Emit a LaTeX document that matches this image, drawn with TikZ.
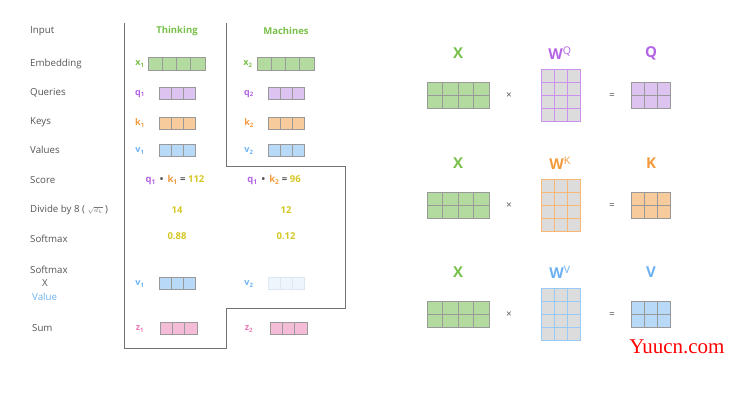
\documentclass[tikz,border=0pt]{standalone}
\usepackage{fontspec}
\setmainfont{Open Sans}
\newfontfamily\wmfont{Liberation Serif}
\definecolor{txtgray}{HTML}{555555}
\definecolor{lgreen}{HTML}{B3DBA0}
\definecolor{tgreen}{HTML}{78C04A}
\definecolor{lpurple}{HTML}{DDC4F0}
\definecolor{tpurple}{HTML}{B464E6}
\definecolor{lorange}{HTML}{F8CB9C}
\definecolor{torange}{HTML}{F39A3C}
\definecolor{lblue}{HTML}{B8D9F8}
\definecolor{tblue}{HTML}{6CB2F3}
\definecolor{lpink}{HTML}{F5BCD8}
\definecolor{tpink}{HTML}{EC7AB6}
\definecolor{tyellow}{HTML}{D4C724}
\definecolor{wgray}{HTML}{DCDCDC}
\definecolor{cellgray}{HTML}{999999}
\definecolor{fadeblue}{HTML}{EEF5FD}
\definecolor{fadeline}{HTML}{DCE7F2}
\newcommand\cells[8]{%
  \foreach \ci in {1,...,#3}{\foreach \cj in {1,...,#4}{%
    \draw[fill=#7,draw=#8,line width=0.8pt] ({#1+(\ci-1)*#5},{#2+(\cj-1)*#6}) rectangle ++(#5,#6);}}}
\begin{document}
\begin{tikzpicture}[x=1pt,y=-1pt,
  lbl/.style={anchor=west,text=txtgray,font=\fontsize{9.7}{11}\selectfont,inner sep=0pt},
  head/.style={text=tgreen,font=\bfseries\fontsize{9.5}{11}\selectfont,inner sep=0pt},
  vlbl/.style={font=\bfseries\fontsize{9}{11}\selectfont,inner sep=0pt},
  num/.style={text=tyellow,font=\bfseries\fontsize{9.5}{11}\selectfont,inner sep=0pt},
  big/.style={font=\bfseries\fontsize{15}{17}\selectfont,inner sep=0pt},
  op/.style={text=txtgray,font=\fontsize{10}{12}\selectfont,inner sep=0pt}]
\useasboundingbox (0,0) rectangle (738,401);
% row labels
\node[lbl] (lInput) at (30,31) {Input};
\node[lbl] (lEmb) at (30,64) {Embedding};
\node[lbl] (lQ) at (30,93) {Queries};
\node[lbl] (lK) at (30,122) {Keys};
\node[lbl] (lV) at (30,150) {Values};
\node[lbl] (lScore) at (30,180) {Score};
\node[lbl] (lDiv) at (30,210) {Divide by 8 ( {\color{txtgray!80}\scriptsize$\sqrt{d_k}$} )};
\node[lbl] (lSoft) at (30,239) {Softmax};
\node[lbl] (lSoft2) at (30,270) {Softmax};
\node[lbl] (lX) at (42,283) {X};
\node[lbl,text=tblue] (lValue) at (32,297) {Value};
\node[lbl] (lSum) at (32,328) {Sum};
% outline
\draw[gray!90!black,line width=0.9pt] (124,23) -- (124,348) -- (226,348) -- (226,308) -- (345,308) -- (345,166) -- (226,166) -- (226,23);
% headings
\node[head] (hThink) at (177,31) {Thinking};
\node[head] (hMach) at (286,31) {Machines};
% column 1
\node[vlbl,text=tgreen] (x1) at (140,64) {x\textsubscript{1}};
\cells{148}{57}{4}{1}{14.25}{13}{lgreen}{cellgray}
\node[vlbl,text=tpurple] (q1) at (140,94) {q\textsubscript{1}};
\cells{159}{87}{3}{1}{12}{12}{lpurple}{cellgray}
\node[vlbl,text=torange] (k1) at (140,123) {k\textsubscript{1}};
\cells{159}{117}{3}{1}{12}{12}{lorange}{cellgray}
\node[vlbl,text=tblue] (v1) at (140,151) {v\textsubscript{1}};
\cells{159}{144}{3}{1}{12}{12}{lblue}{cellgray}
\node[vlbl,text=tblue] (v1b) at (140,284) {v\textsubscript{1}};
\cells{159}{277}{3}{1}{12}{12}{lblue}{cellgray}
\node[vlbl,text=tpink] (z1) at (140,329) {z\textsubscript{1}};
\cells{160}{322}{3}{1}{12.3}{12}{lpink}{cellgray}
% column 2
\node[vlbl,text=tgreen] (x2) at (248,64) {x\textsubscript{2}};
\cells{257}{57}{4}{1}{14.25}{13}{lgreen}{cellgray}
\node[vlbl,text=tpurple] (q2) at (249,94) {q\textsubscript{2}};
\cells{268}{87}{3}{1}{12}{12}{lpurple}{cellgray}
\node[vlbl,text=torange] (k2) at (249,123) {k\textsubscript{2}};
\cells{268}{117}{3}{1}{12}{12}{lorange}{cellgray}
\node[vlbl,text=tblue] (v2) at (249,151) {v\textsubscript{2}};
\cells{268}{144}{3}{1}{12}{12}{lblue}{cellgray}
\node[vlbl,text=tblue] (v2b) at (249,284) {v\textsubscript{2}};
\cells{268}{277}{3}{1}{12}{12}{fadeblue}{fadeline}
\node[vlbl,text=tpink] (z2) at (249,329) {z\textsubscript{2}};
\cells{270}{322}{3}{1}{12.3}{12}{lpink}{cellgray}
% score etc
\node[num] (s1) at (175,180) {{\color{tpurple}q\textsubscript{1}} {\color{txtgray}\,•\,} {\color{torange}k\textsubscript{1}} {\color{txtgray}=} 112};
\node[num] (s2) at (274,180) {{\color{tpurple}q\textsubscript{1}} {\color{txtgray}\,•\,} {\color{torange}k\textsubscript{2}} {\color{txtgray}=} 96};
\node[num] (d1) at (177,210) {14};
\node[num] (d2) at (286,210) {12};
\node[num] (sm1) at (177,236) {0.88};
\node[num] (sm2) at (286,236) {0.12};
% right side rows
\foreach \yy/\wl/\rl/\wc/\fc in {0/Q/Q/tpurple/lpurple,110/K/K/torange/lorange,219/V/V/tblue/lblue}{
  \node[big,text=tgreen] at (458,53+\yy) {X};
  \node[big,text=\wc] at (560,53+\yy) {W\textsuperscript{\mdseries\wl}};
  \node[big,text=\wc] at (651,53+\yy) {\rl};
  \cells{427}{82+\yy}{4}{2}{15.5}{13}{lgreen}{cellgray}
  \cells{541}{69+\yy}{3}{4}{13}{13}{wgray}{\wc!70}
  \cells{631}{82+\yy}{3}{2}{13}{13}{\fc}{cellgray}
  \node[op] at (509,96+\yy) {×};
  \node[op] at (612,96+\yy) {=};
}
\node[text=red,font=\wmfont\fontsize{21}{23}\selectfont,inner sep=0pt] (wm) at (677,347) {Yuucn.com};
\end{tikzpicture}
\end{document}
